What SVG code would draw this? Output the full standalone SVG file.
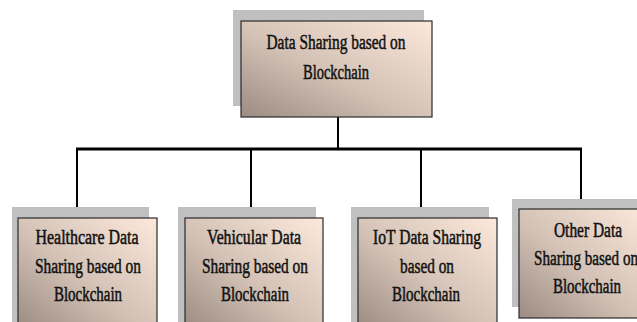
<svg xmlns="http://www.w3.org/2000/svg" width="637" height="322" viewBox="0 0 637 322">
  <defs>
    <linearGradient id="boxFill" x1="0" y1="1" x2="1" y2="0">
      <stop offset="0" stop-color="#9b8b82"/>
      <stop offset="0.45" stop-color="#d3c1b5"/>
      <stop offset="1" stop-color="#fde9dc"/>
    </linearGradient>
  </defs>
  <style>
    .shadow { fill: #c0c0c0; }
    .box { fill: url(#boxFill); stroke: #2a2a2a; stroke-width: 1.2; }
    .label { font-family: "Liberation Serif", "Times New Roman", serif; font-size: 20px; fill: #111; stroke: #111; stroke-width: 0.5; text-anchor: middle; dominant-baseline: central; }
    .trunk { stroke: #000; stroke-width: 2; fill: none; }
    .bus { stroke: #000; stroke-width: 3; fill: none; }
    .drop { stroke: #000; stroke-width: 2; fill: none; }
  </style>

  <rect width="637" height="322" fill="#fff"/>

  <!-- connectors: trunk from the root, horizontal bus, and one arrow per child -->
  <g id="connectors">
    <line class="trunk" x1="338" y1="117" x2="338" y2="149"/>
    <line class="bus" x1="76" y1="149" x2="582" y2="149"/>
    <line class="drop" x1="77" y1="149" x2="77" y2="210"/>
    <line class="drop" x1="251" y1="149" x2="251" y2="210"/>
    <line class="drop" x1="421" y1="149" x2="421" y2="210"/>
    <line class="drop" x1="581" y1="149" x2="581" y2="201"/>
    <path d="M72,208 L82,208 L77,218 z"/>
    <path d="M246,208 L256,208 L251,218 z"/>
    <path d="M416,208 L426,208 L421,218 z"/>
    <path d="M576,199 L586,199 L581,209 z"/>
  </g>

  <!-- root -->
  <g id="root">
    <rect class="shadow" x="233" y="10" width="191" height="96"/>
    <rect class="box" x="241" y="21" width="191" height="96"/>
    <text class="label" x="336" y="42" textLength="139" lengthAdjust="spacingAndGlyphs">Data Sharing based on</text>
    <text class="label" x="336" y="72" textLength="66" lengthAdjust="spacingAndGlyphs">Blockchain</text>
  </g>

  <!-- healthcare -->
  <g id="healthcare">
    <rect class="shadow" x="12" y="207" width="137" height="120"/>
    <rect class="box" x="18" y="218" width="139" height="110"/>
    <text class="label" x="87" y="237" textLength="103" lengthAdjust="spacingAndGlyphs">Healthcare Data</text>
    <text class="label" x="88" y="266" textLength="106" lengthAdjust="spacingAndGlyphs">Sharing based on</text>
    <text class="label" x="88" y="294" textLength="68" lengthAdjust="spacingAndGlyphs">Blockchain</text>
  </g>

  <!-- vehicular -->
  <g id="vehicular">
    <rect class="shadow" x="178" y="207" width="138" height="120"/>
    <rect class="box" x="185" y="218" width="138" height="110"/>
    <text class="label" x="254" y="237" textLength="94" lengthAdjust="spacingAndGlyphs">Vehicular Data</text>
    <text class="label" x="255" y="266" textLength="106" lengthAdjust="spacingAndGlyphs">Sharing based on</text>
    <text class="label" x="255" y="294" textLength="68" lengthAdjust="spacingAndGlyphs">Blockchain</text>
  </g>

  <!-- iot -->
  <g id="iot">
    <rect class="shadow" x="351" y="207" width="138" height="120"/>
    <rect class="box" x="358" y="218" width="139" height="110"/>
    <text class="label" x="427" y="237" textLength="108" lengthAdjust="spacingAndGlyphs">IoT Data Sharing</text>
    <text class="label" x="427" y="266" textLength="54" lengthAdjust="spacingAndGlyphs">based on</text>
    <text class="label" x="426" y="294" textLength="68" lengthAdjust="spacingAndGlyphs">Blockchain</text>
  </g>

  <!-- other -->
  <g id="other">
    <rect class="shadow" x="512" y="199" width="130" height="108"/>
    <rect class="box" x="519" y="209" width="130" height="109"/>
    <text class="label" x="588" y="230" textLength="68" lengthAdjust="spacingAndGlyphs">Other Data</text>
    <text class="label" x="586" y="258" textLength="104" lengthAdjust="spacingAndGlyphs">Sharing based on</text>
    <text class="label" x="587" y="286" textLength="68" lengthAdjust="spacingAndGlyphs">Blockchain</text>
  </g>
</svg>
